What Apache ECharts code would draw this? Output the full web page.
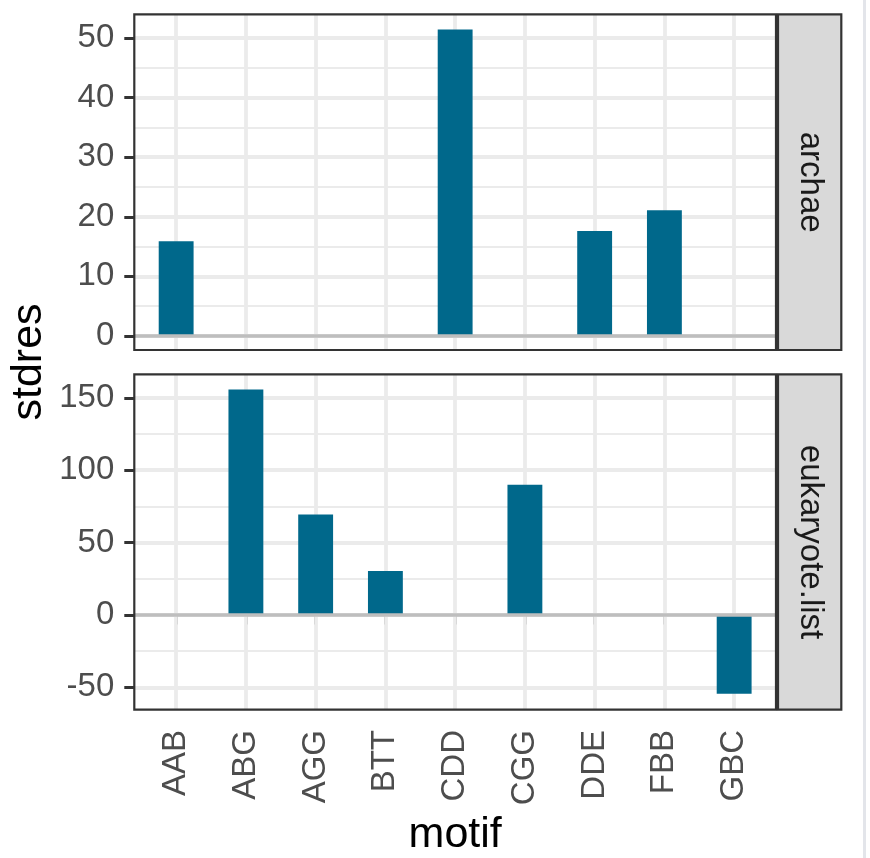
<!DOCTYPE html>
<html>
<head>
<meta charset="utf-8">
<script src="https://cdn.jsdelivr.net/npm/echarts@6/dist/echarts.min.js"></script>
<style>
html,body{margin:0;padding:0;background:#fff;}
#chart{width:870px;height:858px;}
</style>
</head>
<body>
<div id="chart"></div>
<script>
// ---- data ----
const categories = ['AAB', 'ABG', 'AGG', 'BTT', 'CDD', 'CGG', 'DDE', 'FBB', 'GBC'];
const archaeValues = [15.9, null, null, null, 51.4, null, 17.6, 21.1, null];
const eukaryoteValues = [null, 155.8, 69.2, 30.0, null, 89.8, null, null, -55.0];
const archaeTicks = [0, 10, 20, 30, 40, 50];
const eukaryoteTicks = [-50, 0, 50, 100, 150];
const panelNames = ['archae', 'eukaryote.list'];
const xTitle = 'motif';
const yTitle = 'stdres';

// ---- layout ----
const PL = 134.3, PR = 776, PW = PR - PL;
const band = PW / 9.2;
const IL = PL + 0.1 * band, IW = 9 * band;
const P1T = 14.3, P1B = 350, P2T = 374.3, P2B = 709.7;
const FONT = '"Liberation Sans", Arial, Helvetica, sans-serif';
const GRID = '#EBEBEB', BORDER = '#333333', BAR = '#00688B';
const TICK_FS = 33, TITLE_FS = 43;

const chart = echarts.init(document.getElementById('chart'), null, {renderer: 'canvas'});

function valueAxis(gridIndex, min, max, ticks, visible) {
  if (!visible) return {type: 'value', gridIndex, min, max, show: false};
  return {
    type: 'value', gridIndex, min, max,
    axisLine: {show: false},
    axisTick: {show: true, length: 10, customValues: ticks, lineStyle: {color: BORDER, width: 3}},
    axisLabel: {show: true, customValues: ticks, fontSize: TICK_FS, color: '#4D4D4D', fontFamily: FONT, margin: 20},
    splitLine: {show: true, lineStyle: {color: GRID, width: 3.8}},
    minorTick: {show: false, splitNumber: 2},
    minorSplitLine: {show: true, lineStyle: {color: GRID, width: 1.9}}
  };
}

const vlines = categories.map(c => ({xAxis: c}));

const option = {
  animation: false,
  backgroundColor: '#ffffff',
  grid: [
    {left: PL, top: P1T, width: PW, height: P1B - P1T},
    {left: IL, top: P1T, width: IW, height: P1B - P1T},
    {left: PL, top: P2T, width: PW, height: P2B - P2T},
    {left: IL, top: P2T, width: IW, height: P2B - P2T}
  ],
  xAxis: [
    {type: 'value', gridIndex: 0, min: 0, max: 1, show: false},
    {type: 'category', gridIndex: 1, data: categories, boundaryGap: true,
     axisLine: {show: false}, axisTick: {show: false}, axisLabel: {show: false}, splitLine: {show: false}},
    {type: 'value', gridIndex: 2, min: 0, max: 1, show: false},
    {type: 'category', gridIndex: 3, data: categories, boundaryGap: true,
     axisLine: {show: false},
     axisTick: {show: true, alignWithLabel: true, length: 10, lineStyle: {color: BORDER, width: 3}},
     axisLabel: {show: true, rotate: 90, fontSize: TICK_FS, color: '#4D4D4D', fontFamily: FONT, margin: 21, interval: 0},
     splitLine: {show: false},
     name: xTitle, nameLocation: 'middle', nameGap: 105,
     nameTextStyle: {fontSize: TITLE_FS, color: '#000', fontFamily: FONT}}
  ],
  yAxis: [
    valueAxis(0, -2.35, 53.97, archaeTicks, true),
    valueAxis(1, -2.35, 53.97, archaeTicks, false),
    valueAxis(2, -65.5, 166.3, eukaryoteTicks, true),
    valueAxis(3, -65.5, 166.3, eukaryoteTicks, false)
  ],
  series: [
    {type: 'line', xAxisIndex: 1, yAxisIndex: 1, data: [], z: 1, silent: true,
     markLine: {silent: true, z: 1, symbol: 'none', label: {show: false}, animation: false,
       lineStyle: {color: GRID, width: 3.8, type: 'solid'}, data: vlines}},
    {type: 'line', xAxisIndex: 3, yAxisIndex: 3, data: [], z: 1, silent: true,
     markLine: {silent: true, z: 1, symbol: 'none', label: {show: false}, animation: false,
       lineStyle: {color: GRID, width: 3.8, type: 'solid'}, data: vlines}},
    {name: panelNames[0], type: 'bar', xAxisIndex: 1, yAxisIndex: 1, data: archaeValues,
     barWidth: band * 0.5, itemStyle: {color: BAR}, z: 2},
    {name: panelNames[1], type: 'bar', xAxisIndex: 3, yAxisIndex: 3, data: eukaryoteValues,
     barWidth: band * 0.5, itemStyle: {color: BAR}, z: 2},
    {type: 'line', xAxisIndex: 0, yAxisIndex: 0, data: [], z: 3, silent: true,
     markLine: {silent: true, z: 3, symbol: 'none', label: {show: false}, animation: false,
       lineStyle: {color: '#BEBEBE', width: 3.5, type: 'solid'}, data: [{yAxis: 0}]}},
    {type: 'line', xAxisIndex: 2, yAxisIndex: 2, data: [], z: 3, silent: true,
     markLine: {silent: true, z: 3, symbol: 'none', label: {show: false}, animation: false,
       lineStyle: {color: '#BEBEBE', width: 3.5, type: 'solid'}, data: [{yAxis: 0}]}}
  ],
  graphic: [
    {type: 'rect', z: 100, shape: {x: PL, y: P1T, width: PW, height: P1B - P1T},
     style: {fill: null, stroke: BORDER, lineWidth: 2.2}},
    {type: 'rect', z: 100, shape: {x: PL, y: P2T, width: PW, height: P2B - P2T},
     style: {fill: null, stroke: BORDER, lineWidth: 2.2}},
    {type: 'rect', z: 100, shape: {x: 778, y: P1T, width: 63.3, height: P1B - P1T},
     style: {fill: '#D9D9D9', stroke: BORDER, lineWidth: 2.2}},
    {type: 'rect', z: 100, shape: {x: 778, y: P2T, width: 63.3, height: P2B - P2T},
     style: {fill: '#D9D9D9', stroke: BORDER, lineWidth: 2.2}},
    {type: 'text', z: 101, x: 809.6, y: (P1T + P1B) / 2, rotation: -Math.PI / 2,
     style: {text: panelNames[0], fill: '#1A1A1A', font: TICK_FS + 'px ' + FONT, textAlign: 'center', textVerticalAlign: 'middle'}},
    {type: 'text', z: 101, x: 809.6, y: (P2T + P2B) / 2, rotation: -Math.PI / 2,
     style: {text: panelNames[1], fill: '#1A1A1A', font: TICK_FS + 'px ' + FONT, textAlign: 'center', textVerticalAlign: 'middle'}},
    {type: 'text', z: 101, x: 29, y: (P1T + P2B) / 2, rotation: Math.PI / 2,
     style: {text: yTitle, fill: '#000', font: TITLE_FS + 'px ' + FONT, textAlign: 'center', textVerticalAlign: 'middle'}},
    {type: 'rect', z: 100, shape: {x: 863, y: 0, width: 3, height: 858},
     style: {fill: '#E3E5EA'}}
  ]
};
chart.setOption(option);
</script>
</body>
</html>
